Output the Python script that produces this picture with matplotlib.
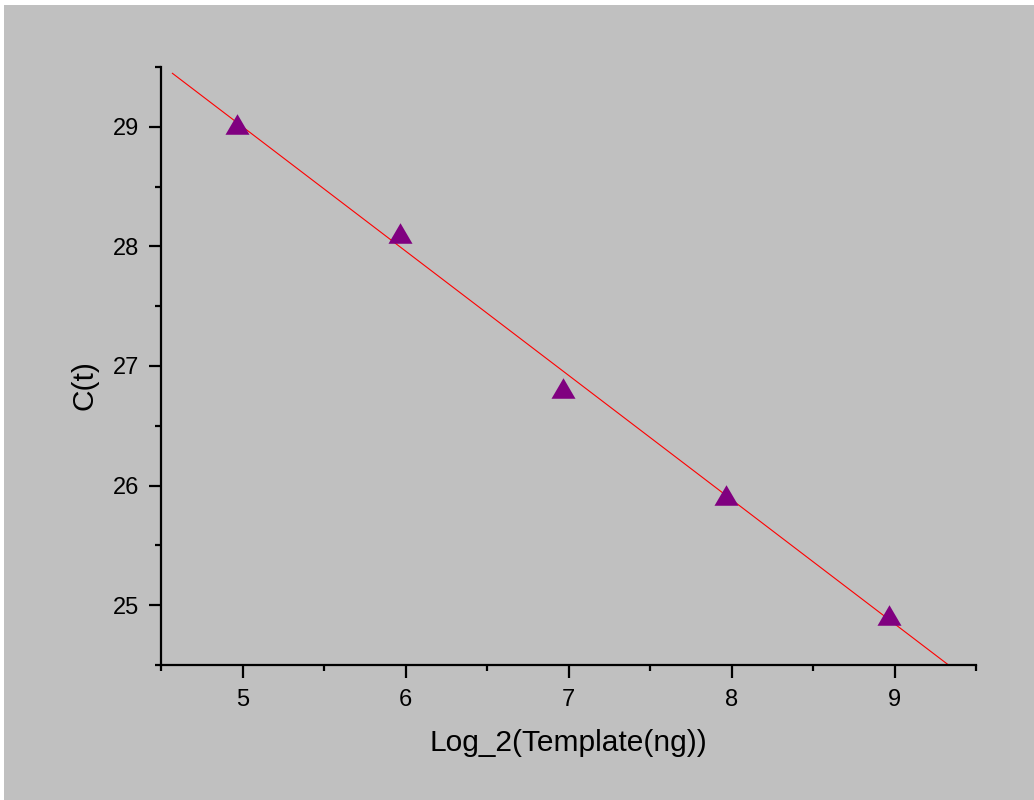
import numpy as np
import matplotlib
matplotlib.use("Agg")
import matplotlib.pyplot as plt
from matplotlib.path import Path
from matplotlib.patches import Rectangle
from matplotlib.ticker import MultipleLocator

# Data
template_ng = [31.25, 62.5, 125, 250, 500]
ct_values = [29.02, 28.11, 26.82, 25.92, 24.92]
x_ticks = [5, 6, 7, 8, 9]
y_ticks = [25, 26, 27, 28, 29]
x_label = "Log_2(Template(ng))"
y_label = "C(t)"

log2_template = np.log2(template_ng)
slope, intercept = np.polyfit(log2_template, ct_values, 1)

plt.rcParams['font.family'] = ['Liberation Sans', 'DejaVu Sans']

W, H = 1034, 800
fig = plt.figure(figsize=(W / 100, H / 100), dpi=100)
fig.patch.set_facecolor('white')
fig.patches.append(Rectangle((4 / W, 0), 1 - 4 / W, 1 - 5 / H, transform=fig.transFigure,
                             facecolor='#c0c0c0', edgecolor='none', zorder=-10))

ax = fig.add_axes([161 / W, 1 - 665 / H, (976 - 161) / W, (665 - 67) / H])
ax.set_facecolor('#c0c0c0')
ax.patch.set_alpha(0)

tri = Path([(0, 1), (-1.17, -1), (1.17, -1), (0, 1)],
           [Path.MOVETO, Path.LINETO, Path.LINETO, Path.CLOSEPOLY])

xfit = np.array([4.57, 9.5])
ax.plot(xfit, slope * xfit + intercept, color='red', lw=0.8, zorder=2)
ax.plot(log2_template, ct_values, linestyle='none', marker=tri, markersize=17.3,
        color='#800080', markeredgewidth=0, zorder=3)

ax.set_xlim(4.5, 9.5)
ax.set_ylim(24.5, 29.5)
ax.set_xticks(x_ticks)
ax.set_yticks(y_ticks)
ax.xaxis.set_minor_locator(MultipleLocator(0.5))
ax.yaxis.set_minor_locator(MultipleLocator(0.5))
ax.spines['top'].set_visible(False)
ax.spines['right'].set_visible(False)
for s in ['left', 'bottom']:
    ax.spines[s].set_linewidth(1.6)
ax.tick_params(which='major', direction='out', length=9, width=1.6, labelsize=17, pad=7)
ax.tick_params(which='minor', direction='out', length=4.5, width=1.6)
ax.tick_params(axis='x', which='major', pad=8)

fig.text(568.5 / W, 1 - 751 / H, x_label, ha='center', va='baseline', fontsize=21.5)
fig.text(85 / W, 1 - 385.5 / H, y_label, ha='center', va='center', rotation=90, fontsize=21.5)

fig.savefig('out.png', dpi=100, facecolor=fig.get_facecolor())
